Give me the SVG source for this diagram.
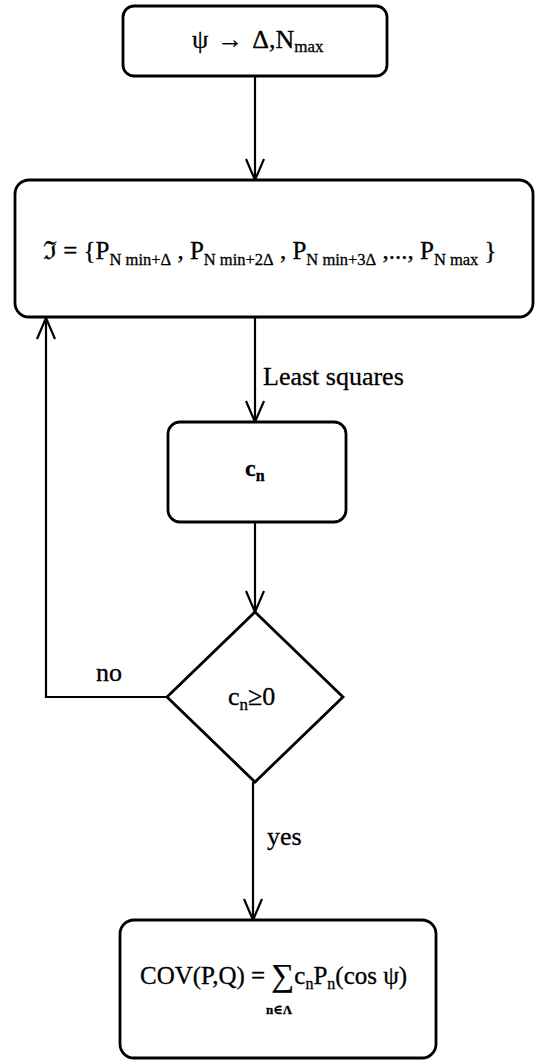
<svg xmlns="http://www.w3.org/2000/svg" width="541" height="1062" viewBox="0 0 541 1062">
  <style>
    .box { fill: #fff; stroke: #000; stroke-width: 2.8; }
    .wire { fill: none; stroke: #000; stroke-width: 2.2; }
    .head { fill: none; stroke: #000; stroke-width: 2.2; stroke-linejoin: miter; }
    text { font-family: "Liberation Serif", "DejaVu Serif", serif; fill: #000; stroke: #000; stroke-width: 0.3; }
    .t { font-size: 26px; }
    .sub { font-size: 17px; }
  </style>
  <defs>
    <!-- open V arrowhead, tip at the origin pointing down -->
    <path id="vhead" d="M -9 -21 L 0 0 L 9 -21" class="head"/>
  </defs>

  <rect width="541" height="1062" fill="#fff"/>

  <g id="connectors">
    <line class="wire" x1="255" y1="76" x2="255" y2="180"/>
    <use href="#vhead" x="255" y="180"/>
    <line class="wire" x1="255" y1="317" x2="255" y2="422"/>
    <use href="#vhead" x="255" y="422"/>
    <line class="wire" x1="255" y1="522" x2="255" y2="612"/>
    <use href="#vhead" x="255" y="612"/>
    <polyline class="wire" points="167,697 46,697 46,318"/>
    <path class="head" d="M 37 339 L 46 318 L 55 339"/>
    <line class="wire" x1="253" y1="782" x2="253" y2="920"/>
    <use href="#vhead" x="253" y="920"/>
    <text class="t" x="263" y="385">Least squares</text>
    <text class="t" x="96" y="681">no</text>
    <text class="t" x="267" y="845">yes</text>
  </g>

  <g id="node-start">
    <rect class="box" x="123" y="6" width="264" height="70" rx="11"/>
    <text class="t" x="192" y="48">ψ<tspan dx="9">→</tspan><tspan dx="9">Δ,N</tspan><tspan class="sub" dy="4">max</tspan></text>
  </g>

  <g id="node-set">
    <rect class="box" x="15" y="180" width="518" height="137" rx="14"/>
    <text x="43" y="259" font-size="25">ℑ = {P<tspan font-size="16.5" dy="6">N min+Δ</tspan><tspan dy="-6"> , P</tspan><tspan font-size="16.5" dy="6">N min+2Δ</tspan><tspan dy="-6"> , P</tspan><tspan font-size="16.5" dy="6">N min+3Δ</tspan><tspan dy="-6"> ,..., P</tspan><tspan font-size="16.5" dy="6">N max</tspan><tspan dy="-6"> }</tspan></text>
  </g>

  <g id="node-coeff">
    <rect class="box" x="168" y="422" width="178" height="100" rx="12"/>
    <text x="245" y="476" font-size="24" font-weight="bold">c<tspan font-size="16" dy="5">n</tspan></text>
  </g>

  <g id="node-test">
    <polygon class="box" points="255,612 343,697 255,782 167,697"/>
    <text class="t" x="228" y="705">c<tspan class="sub" dy="5">n</tspan><tspan dy="-5">≥0</tspan></text>
  </g>

  <g id="node-result">
    <rect class="box" x="120" y="920" width="316" height="138" rx="14"/>
    <text x="140" y="984" font-size="25">COV(P,Q) = <tspan font-size="32" dy="2">∑</tspan><tspan dy="-2">c</tspan><tspan font-size="16" dy="5">n</tspan><tspan dy="-5">P</tspan><tspan font-size="16" dy="5">n</tspan><tspan dy="-5">(cos ψ)</tspan></text>
    <text x="266" y="1014" font-size="13" font-weight="bold" stroke-width="0">n∈Λ</text>
  </g>
</svg>
